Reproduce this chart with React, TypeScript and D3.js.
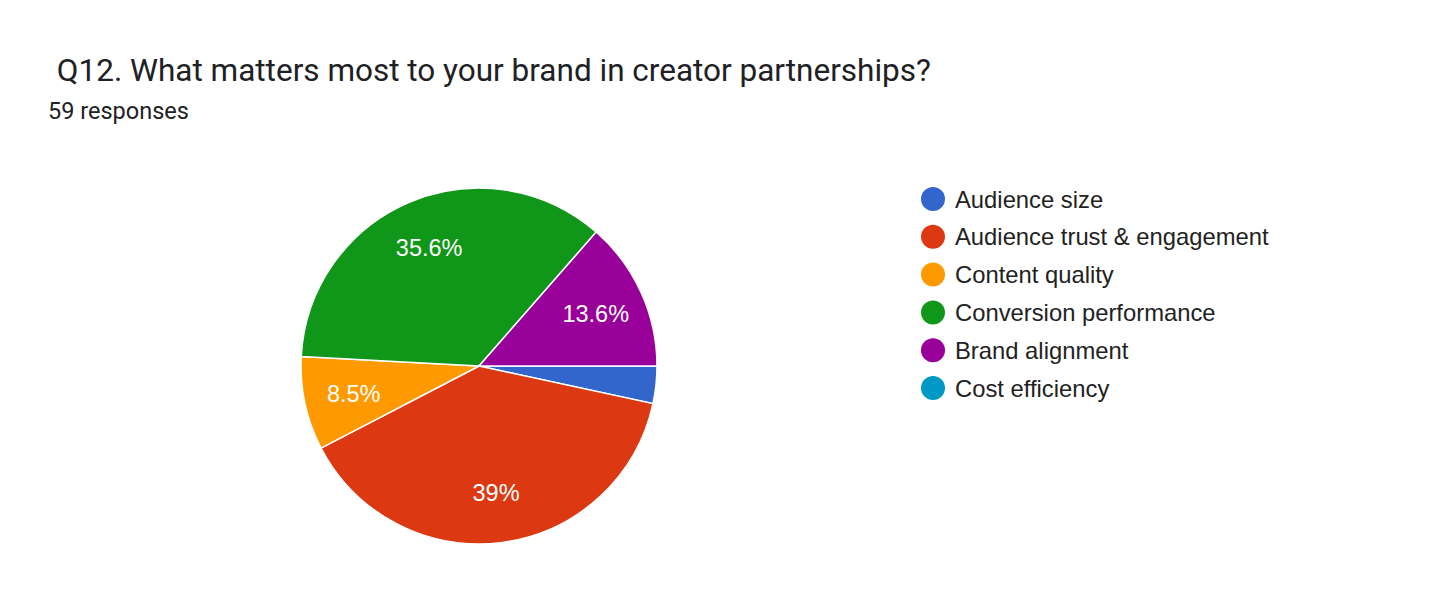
import { useEffect, useRef } from 'react';
import * as d3 from 'd3';

const categories = [
  'Audience size',
  'Audience trust & engagement',
  'Content quality',
  'Conversion performance',
  'Brand alignment',
  'Cost efficiency',
];
const counts = [2, 23, 5, 21, 8, 0];
const colors = ['#3366cc', '#dc3912', '#ff9900', '#109618', '#990099', '#0099c6'];
const title = ' Q12. What matters most to your brand in creator partnerships?';
const subtitle = '59 responses';

interface Slice {
  name: string;
  value: number;
  color: string;
}

export default function App() {
  const svgRef = useRef<SVGSVGElement>(null);

  useEffect(() => {
    if (!svgRef.current) return;
    const svg = d3.select(svgRef.current);
    svg.selectAll('*').remove();

    const data: Slice[] = categories.map((name, i) => ({ name, value: counts[i], color: colors[i] }));
    const total = d3.sum(data, d => d.value);

    svg.append('rect').attr('width', 1456).attr('height', 613).attr('fill', '#fff');

    svg.append('text')
      .attr('x', 49)
      .attr('y', 81)
      .attr('font-family', 'Roboto, sans-serif')
      .attr('font-size', '31.5px')
      .attr('fill', '#202124')
      .style('white-space', 'pre')
      .text(title);

    svg.append('text')
      .attr('x', 48)
      .attr('y', 119)
      .attr('font-family', 'Roboto, sans-serif')
      .attr('font-size', '23.5px')
      .attr('fill', '#202124')
      .text(subtitle);

    const cx = 479;
    const cy = 366;
    const radius = 178;

    // slices start at 3 o'clock and go clockwise, like google charts here
    const pie = d3.pie<Slice>()
      .value(d => d.value)
      .sort(null)
      .startAngle(Math.PI / 2)
      .endAngle(Math.PI / 2 + 2 * Math.PI);

    const arcs = pie(data);
    const arc = d3.arc<d3.PieArcDatum<Slice>>().innerRadius(0).outerRadius(radius);
    const labelArc = d3.arc<d3.PieArcDatum<Slice>>().innerRadius(radius * 0.72).outerRadius(radius * 0.72);

    const g = svg.append('g').attr('transform', `translate(${cx},${cy})`);

    g.selectAll('path')
      .data(arcs.filter(a => a.value > 0))
      .join('path')
      .attr('d', arc)
      .attr('fill', d => d.data.color)
      .attr('stroke', '#fff')
      .attr('stroke-width', 1.5);

    g.selectAll('text')
      .data(arcs.filter(a => a.value / total > 0.05))
      .join('text')
      .attr('transform', d => `translate(${labelArc.centroid(d)})`)
      .attr('text-anchor', 'middle')
      .attr('dy', '0.36em')
      .attr('font-family', 'Arial, "Liberation Sans", sans-serif')
      .attr('font-size', '23.5px')
      .attr('fill', '#fff')
      .text(d => `${d3.format('.1~f')((d.value / total) * 100)}%`);

    const legend = svg.append('g').attr('transform', 'translate(933,199)');
    const rows = legend.selectAll('g')
      .data(data)
      .join('g')
      .attr('transform', (_, i) => `translate(0,${i * 37.8})`);

    rows.append('circle')
      .attr('r', 12)
      .attr('fill', d => d.color);

    rows.append('text')
      .attr('x', 22)
      .attr('dy', '0.36em')
      .attr('font-family', 'Arial, "Liberation Sans", sans-serif')
      .attr('font-size', '23.8px')
      .attr('fill', '#222')
      .text(d => d.name);
  }, []);

  return (
    <div style={{ margin: -8 }}>
      <svg ref={svgRef} width={1456} height={613} style={{ display: 'block' }} />
    </div>
  );
}
